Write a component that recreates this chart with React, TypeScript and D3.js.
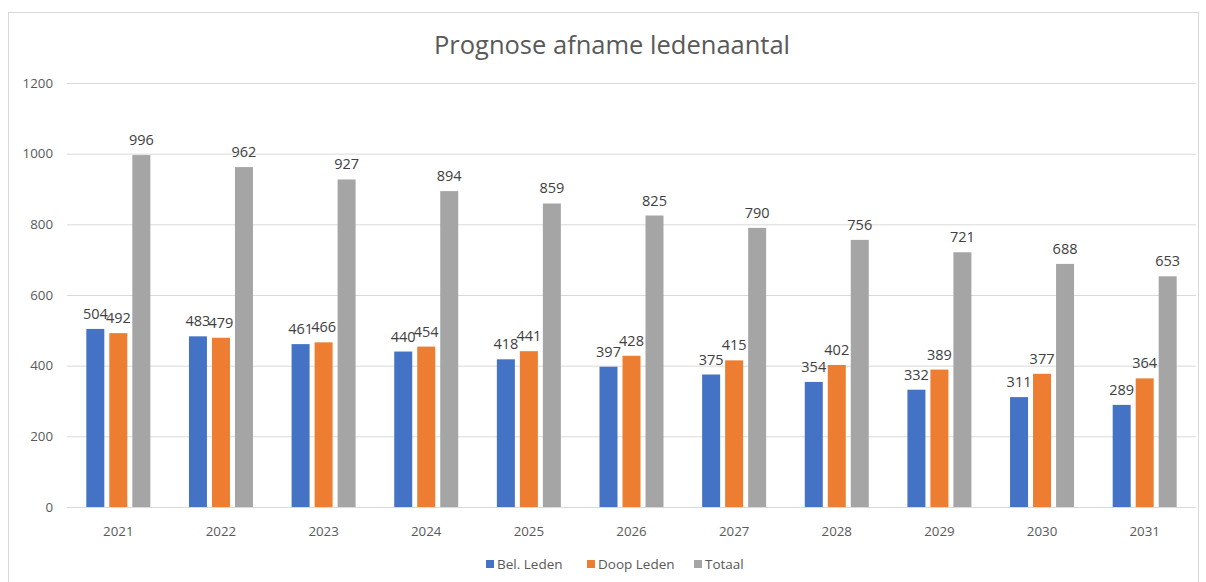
import React, { useEffect, useRef } from 'react';
import * as d3 from 'd3';

const years = ['2021', '2022', '2023', '2024', '2025', '2026', '2027', '2028', '2029', '2030', '2031'];
const belLeden = [504, 483, 461, 440, 418, 397, 375, 354, 332, 311, 289];
const doopLeden = [492, 479, 466, 454, 441, 428, 415, 402, 389, 377, 364];
const totaal = [996, 962, 927, 894, 859, 825, 790, 756, 721, 688, 653];
const seriesNames = ['Bel. Leden', 'Doop Leden', 'Totaal'];
const colors = ['#4472c4', '#ed7d31', '#a5a5a5'];
const yTicks = [0, 200, 400, 600, 800, 1000, 1200];

const W = 1206, H = 582;
const FONT = "'Open Sans', 'Liberation Sans', sans-serif";

export default function App() {
  const ref = useRef<SVGSVGElement>(null);

  useEffect(() => {
    const svg = d3.select(ref.current);
    svg.selectAll('*').remove();

    const margin = { left: 67, top: 83 };
    const plotRight = 1196;

    // chart frame
    svg.append('rect')
      .attr('x', 8.5).attr('y', 12.5)
      .attr('width', 1190).attr('height', 600)
      .attr('fill', '#fff').attr('stroke', '#d9d9d9');

    svg.append('text')
      .attr('x', 612).attr('y', 54)
      .attr('text-anchor', 'middle')
      .attr('font-family', FONT)
      .attr('font-size', 25.5)
      .attr('fill', '#595959')
      .text('Prognose afname ledenaantal');

    const x = d3.scaleBand().domain(years).range([margin.left, plotRight]);
    const y = d3.scaleLinear().domain([0, 1200]).range([507, margin.top]);

    // gridlines
    svg.append('g').selectAll('line').data(yTicks).join('line')
      .attr('x1', margin.left).attr('x2', plotRight)
      .attr('y1', d => y(d) + 0.5).attr('y2', d => y(d) + 0.5)
      .attr('stroke', '#d9d9d9').attr('stroke-width', 1);

    // y tick labels
    svg.append('g').selectAll('text').data(yTicks).join('text')
      .attr('x', 53).attr('y', d => y(d))
      .attr('dy', '0.35em')
      .attr('text-anchor', 'end')
      .attr('font-family', FONT).attr('font-size', 13.3)
      .attr('fill', '#595959')
      .text(d => d);

    // x tick labels
    svg.append('g').selectAll('text').data(years).join('text')
      .attr('x', d => (x(d) as number) + x.bandwidth() / 2)
      .attr('y', 536)
      .attr('text-anchor', 'middle')
      .attr('font-family', FONT).attr('font-size', 13.3)
      .attr('fill', '#595959')
      .text(d => d);

    const barW = 18, gap = 5;
    const inner = d3.scaleBand().domain(['0', '1', '2'])
      .range([0, barW * 3 + gap * 2]).paddingInner(gap / (barW + gap));
    const allSeries = [belLeden, doopLeden, totaal];

    allSeries.forEach((vals, si) => {
      const g = svg.append('g');
      const data = years.map((yr, i) => ({ yr, v: vals[i] }));
      const bx = (d: { yr: string }) =>
        (x(d.yr) as number) + x.bandwidth() / 2 - (barW * 3 + gap * 2) / 2 + (inner(String(si)) as number);
      g.selectAll('rect').data(data).join('rect')
        .attr('x', d => bx(d))
        .attr('y', d => y(d.v))
        .attr('width', inner.bandwidth())
        .attr('height', d => y(0) - y(d.v))
        .attr('fill', colors[si]);
      g.selectAll('text').data(data).join('text')
        .attr('x', d => bx(d) + inner.bandwidth() / 2)
        .attr('y', d => y(d.v) - 10)
        .attr('text-anchor', 'middle')
        .attr('font-family', FONT).attr('font-size', 14.5)
        .attr('fill', '#404040')
        .text(d => d.v);
    });

    // legend
    const legendX = [486, 587, 694];
    seriesNames.forEach((name, i) => {
      svg.append('rect')
        .attr('x', legendX[i]).attr('y', 560)
        .attr('width', 8).attr('height', 8)
        .attr('fill', colors[i]);
      svg.append('text')
        .attr('x', legendX[i] + 11).attr('y', 564)
        .attr('dy', '0.35em')
        .attr('font-family', FONT).attr('font-size', 13.5)
        .attr('fill', '#595959')
        .text(name);
    });
  }, []);

  return (
    <svg ref={ref} width={W} height={H}
      style={{ position: 'absolute', left: 0, top: 0, background: '#fff' }} />
  );
}
